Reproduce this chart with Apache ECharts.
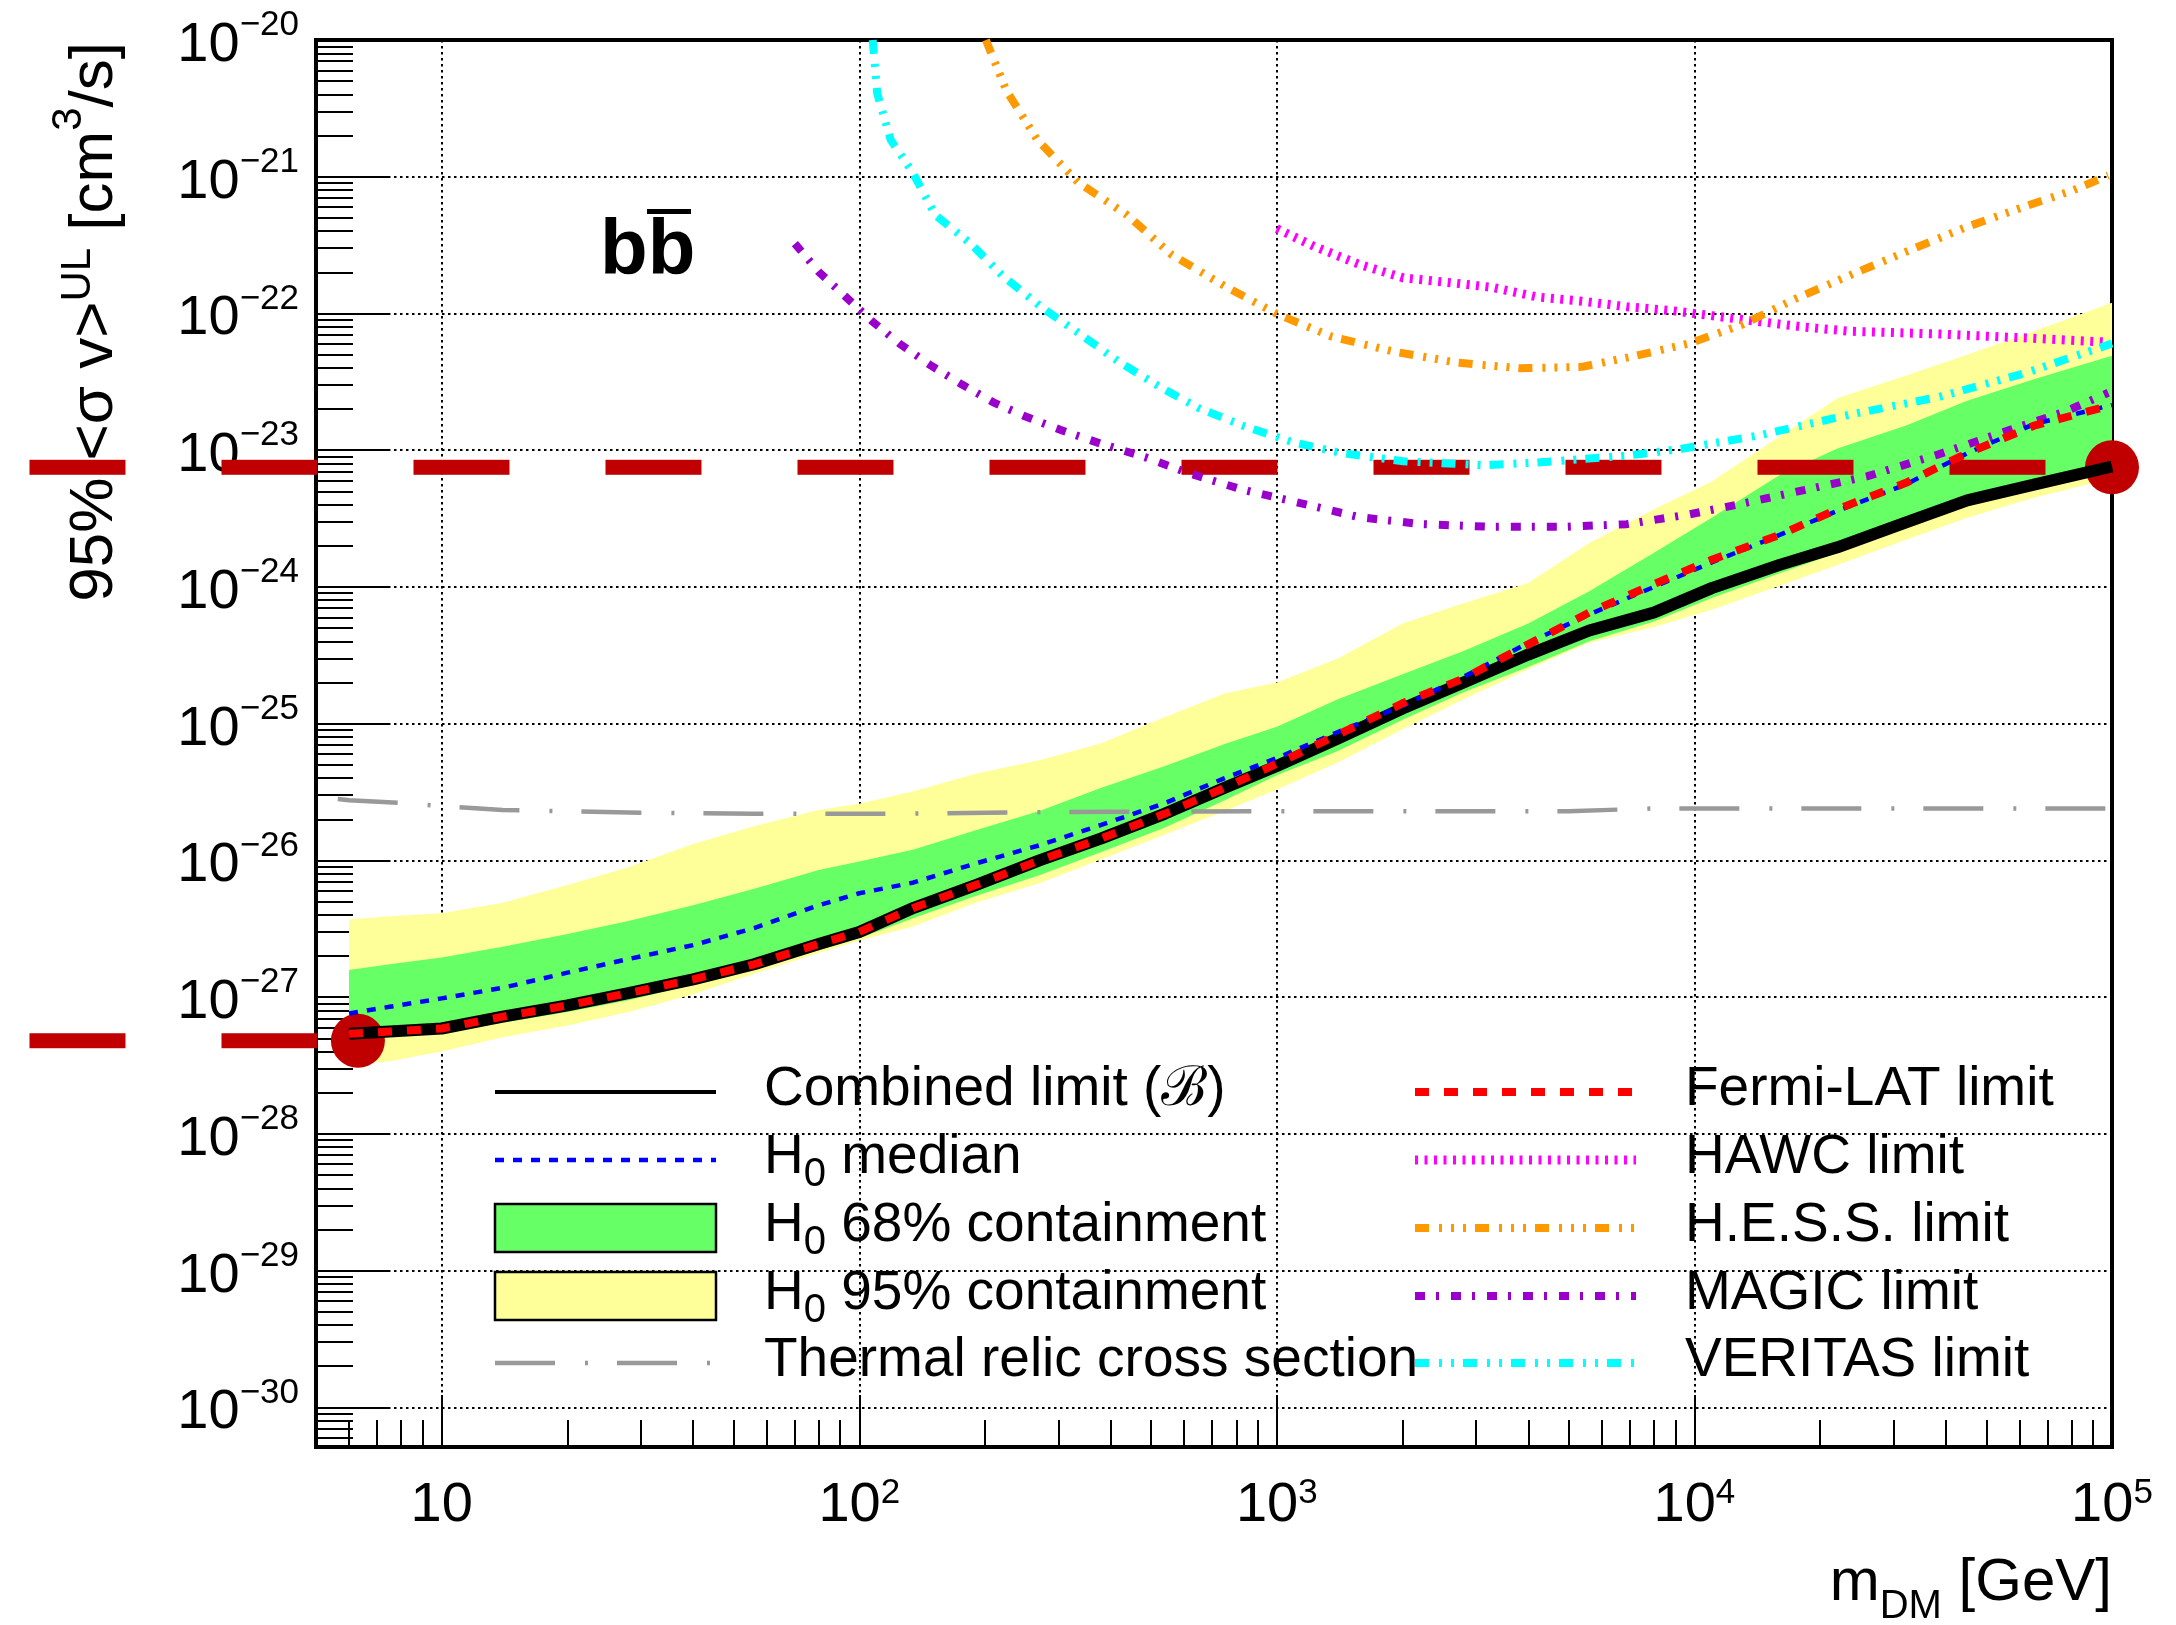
<!DOCTYPE html>
<html>
<head>
<meta charset="utf-8">
<script src="https://cdn.jsdelivr.net/npm/echarts@6/dist/echarts.min.js"></script>
<style>
html,body{margin:0;padding:0;background:#fff;}
#chart{width:2176px;height:1625px;}
</style>
</head>
<body>
<div id="chart"></div>
<script>
// ---------------- data (mass in GeV, <sigma v> in cm^3/s) ----------------
const massGrid = [6.0, 7.5, 10, 14, 20, 28, 40, 56, 80, 100, 135, 190, 270, 380, 540, 750, 1000, 1400, 2000, 2800, 4000, 5600, 8000, 11000, 16000, 22000, 32000, 45000, 65000, 100000];
const combinedLimit = [5.4e-28, 5.6e-28, 5.9e-28, 7.2e-28, 8.7e-28, 1.07e-27, 1.35e-27, 1.74e-27, 2.45e-27, 3.0e-27, 4.5e-27, 6.6e-27, 1.0e-26, 1.45e-26, 2.2e-26, 3.4e-26, 4.9e-26, 7.8e-26, 1.29e-25, 2.0e-25, 3.2e-25, 4.8e-25, 6.5e-25, 9.8e-25, 1.45e-24, 1.95e-24, 2.95e-24, 4.3e-24, 5.6e-24, 7.6e-24];
const fermiLimit = [5.4e-28, 5.6e-28, 5.9e-28, 7.2e-28, 8.7e-28, 1.07e-27, 1.35e-27, 1.74e-27, 2.45e-27, 3.0e-27, 4.5e-27, 6.6e-27, 1.0e-26, 1.45e-26, 2.2e-26, 3.4e-26, 5.1e-26, 8.3e-26, 1.41e-25, 2.14e-25, 3.8e-25, 6.5e-25, 1.05e-24, 1.58e-24, 2.4e-24, 3.7e-24, 5.75e-24, 9.5e-24, 1.51e-23, 2.14e-23];
const h0Median = [7.6e-28, 8.5e-28, 9.8e-28, 1.17e-27, 1.51e-27, 1.9e-27, 2.4e-27, 3.2e-27, 4.7e-27, 5.75e-27, 6.9e-27, 9.5e-27, 1.29e-26, 1.82e-26, 2.63e-26, 4.0e-26, 5.6e-26, 8.7e-26, 1.35e-25, 2.2e-25, 3.9e-25, 6.3e-25, 1.0e-24, 1.51e-24, 2.4e-24, 3.6e-24, 5.6e-24, 9.5e-24, 1.55e-23, 2.14e-23];
const band68Low = [5.0e-28, 5.25e-28, 5.5e-28, 6.5e-28, 7.8e-28, 9.5e-28, 1.23e-27, 1.62e-27, 2.2e-27, 2.7e-27, 3.8e-27, 5.5e-27, 7.8e-27, 1.15e-26, 1.74e-26, 2.75e-26, 4.2e-26, 6.3e-26, 1.07e-25, 1.7e-25, 2.6e-25, 4.0e-25, 5.6e-25, 8.3e-25, 1.26e-24, 1.78e-24, 2.7e-24, 3.9e-24, 5.4e-24, 8.3e-24];
const band68High = [1.58e-27, 1.74e-27, 1.95e-27, 2.34e-27, 2.9e-27, 3.6e-27, 4.7e-27, 6.2e-27, 8.5e-27, 9.8e-27, 1.2e-26, 1.66e-26, 2.3e-26, 3.4e-26, 4.9e-26, 7.1e-26, 9.5e-26, 1.51e-25, 2.3e-25, 3.4e-25, 5.4e-25, 9.3e-25, 1.78e-24, 3.2e-24, 6.6e-24, 1.03e-23, 1.51e-23, 2.3e-23, 3.3e-23, 4.9e-23];
const band95Low = [3.2e-28, 3.4e-28, 4.0e-28, 5.1e-28, 6.2e-28, 7.8e-28, 1.05e-27, 1.48e-27, 2.1e-27, 2.6e-27, 3.3e-27, 4.9e-27, 6.8e-27, 1.02e-26, 1.55e-26, 2.3e-26, 3.3e-26, 5.2e-26, 9.1e-26, 1.51e-25, 2.5e-25, 3.9e-25, 5.1e-25, 6.8e-25, 1.02e-24, 1.45e-24, 2.2e-24, 3.2e-24, 4.5e-24, 6.2e-24];
const band95High = [3.7e-27, 3.9e-27, 4.1e-27, 4.9e-27, 6.6e-27, 8.9e-27, 1.32e-26, 1.78e-26, 2.34e-26, 2.6e-26, 3.2e-26, 4.3e-26, 5.4e-26, 7.2e-26, 1.12e-25, 1.66e-25, 2.0e-25, 3.0e-25, 5.4e-25, 7.6e-25, 1.07e-24, 2.1e-24, 3.7e-24, 5.9e-24, 1.26e-23, 2.4e-23, 3.5e-23, 5.0e-23, 7.4e-23, 1.2e-22];

const thermalMass = [5, 6, 8, 10, 14, 28, 56, 110, 300, 1000, 5000, 8000, 100000];
const thermalSigma = [2.95e-26, 2.75e-26, 2.63e-26, 2.5e-26, 2.34e-26, 2.24e-26, 2.19e-26, 2.19e-26, 2.26e-26, 2.29e-26, 2.29e-26, 2.4e-26, 2.4e-26];

const hawcMass = [1000, 1230, 1574, 2009, 2704, 3289, 4207, 5383, 6887, 8790, 11250, 14390, 18410, 23550, 38460, 62950, 97950];
const hawcSigma = [4.17e-22, 3.09e-22, 2.29e-22, 1.82e-22, 1.66e-22, 1.55e-22, 1.32e-22, 1.23e-22, 1.12e-22, 1.05e-22, 9.55e-23, 8.7e-23, 7.94e-23, 7.41e-23, 7.08e-23, 6.61e-23, 6.17e-23];

const hessMass = [201, 225, 267, 334, 438, 560, 752, 995, 1355, 1914, 2704, 3811, 5383, 7228, 9705, 13030, 17540, 23550, 33190, 44670, 62950, 80540, 97950];
const hessSigma = [1.0e-20, 4.27e-21, 1.86e-21, 9.12e-22, 5.25e-22, 2.69e-22, 1.58e-22, 1.0e-22, 6.76e-23, 5.25e-23, 4.37e-23, 3.98e-23, 4.07e-23, 4.9e-23, 6.03e-23, 8.3e-23, 1.29e-22, 1.9e-22, 2.95e-22, 4.27e-22, 6.17e-22, 7.94e-22, 1.02e-21];

const magicMass = [70.1, 80.2, 92.9, 107.7, 124.7, 148.3, 176.2, 209.4, 248.3, 302.7, 377.6, 483.1, 618, 830, 1114, 1574, 2218, 3289, 4875, 6887, 9705, 13030, 18410, 26000, 38460, 57020, 76740, 97950];
const magicSigma = [3.24e-22, 2.0e-22, 1.32e-22, 8.7e-23, 6.03e-23, 4.17e-23, 3.02e-23, 2.24e-23, 1.78e-23, 1.41e-23, 1.12e-23, 8.9e-24, 6.76e-24, 5.13e-24, 4.17e-24, 3.24e-24, 2.88e-24, 2.75e-24, 2.75e-24, 2.88e-24, 3.39e-24, 4.07e-24, 5.13e-24, 6.46e-24, 9.33e-24, 1.41e-23, 1.9e-23, 2.63e-23];

const veritasMass = [107.7, 110.4, 118.9, 134.3, 152, 184.9, 219.8, 274.2, 334, 416.9, 520, 648.6, 829.8, 1086, 1426, 2009, 3133, 4207, 6887, 9247, 14390, 23550, 38460, 62950, 100000];
const veritasSigma = [1.0e-20, 4.07e-21, 1.86e-21, 1.07e-21, 5.25e-22, 3.24e-22, 1.9e-22, 1.1e-22, 7.24e-23, 4.47e-23, 2.95e-23, 2.04e-23, 1.51e-23, 1.15e-23, 9.55e-24, 8.3e-24, 7.76e-24, 8.13e-24, 9.12e-24, 1.02e-23, 1.29e-23, 1.82e-23, 2.45e-23, 3.72e-23, 6.03e-23];

// highlighted end points of the combined limit and start of the guide lines
const markerMass = [6.3, 100000];
const markerSigma = [4.8e-28, 7.5e-24];
const guideStartMass = 1.03;

// axis ranges and tick decades
const xRange = [5, 1e5];
const yRange = [5.13e-31, 1e-20];
const xDecades = [1, 2, 3, 4, 5];
const yDecades = [-30, -29, -28, -27, -26, -25, -24, -23, -22, -21, -20];

// ---------------- helpers ----------------
const lg = Math.log10;
const FONT = 'Liberation Sans, Arial, Helvetica, sans-serif';
const xr = [lg(xRange[0]), lg(xRange[1])];
const yr = [lg(yRange[0]), lg(yRange[1])];
const xMinor = [], yMinor = [];
for (let e = 0; e <= 4; e++) for (let k = 2; k <= 9; k++) { const v = e + lg(k); if (v > xr[0] + 1e-6 && v < xr[1]) xMinor.push(v); }
for (let e = -31; e <= -21; e++) for (let k = 2; k <= 9; k++) { const v = e + lg(k); if (v > yr[0] && v < yr[1]) yMinor.push(v); }

const STYLE = {
  combined: {color: '#000000', width: 12, type: 'solid'},
  median:   {color: '#0000ff', width: 4.5, type: [9, 9]},
  fermi:    {color: '#ff0000', width: 8, type: [14, 15]},
  hawc:     {color: '#ff00ff', width: 9, type: [3, 6.5]},
  hess:     {color: '#ff9900', width: 8, type: [14, 10, 3, 9, 3, 9, 3, 9]},
  magic:    {color: '#9900cc', width: 8, type: [10, 11, 3, 12]},
  veritas:  {color: '#00ffff', width: 8, type: [14, 10, 3, 9, 3, 9]},
  thermal:  {color: '#999999', width: 4.5, type: [60, 30, 3, 29], dashOffset: 100},
  guide:    {color: '#c00000', width: 15, type: [96, 96]},
  band68: '#66ff66',
  band95: '#ffff99'
};

function pairs(mass, sigma) { return mass.map((m, i) => [lg(m), lg(sigma[i])]); }

function lineSeries(name, mass, sigma, st) {
  return {
    type: 'line', name, data: pairs(mass, sigma), symbol: 'none', showSymbol: false,
    smooth: false, clip: true, silent: true, animation: false,
    lineStyle: {color: st.color, width: st.width, type: st.type, dashOffset: st.dashOffset || 0, cap: 'butt', join: 'round', opacity: 1}
  };
}

function bandSeries(name, low, high, color) {
  return {
    type: 'custom', name, silent: true, animation: false, clip: true,
    data: massGrid.map((m, i) => [lg(m), lg(low[i]), lg(high[i])]),
    encode: {x: 0, y: [1, 2]},
    renderItem: function (params, api) {
      if (params.dataIndex !== 0) return null;
      const up = [], dn = [];
      for (let i = 0; i < massGrid.length; i++) {
        up.push(api.coord([lg(massGrid[i]), lg(high[i])]));
        dn.push(api.coord([lg(massGrid[i]), lg(low[i])]));
      }
      return {type: 'polygon', shape: {points: up.concat(dn.reverse())}, style: {fill: color, stroke: null}};
    }
  };
}

// horizontal guide lines from the left edge of the figure to the highlighted end points
const guideSeries = {
  type: 'custom', name: 'guides', silent: true, animation: false, clip: false,
  data: markerMass.map((m, i) => [lg(guideStartMass), lg(markerSigma[i]), lg(m)]),
  encode: {x: [0, 2], y: 1},
  renderItem: function (params, api) {
    const p0 = api.coord([api.value(0), api.value(1)]);
    const p1 = api.coord([api.value(2), api.value(1)]);
    return {type: 'line', shape: {x1: p0[0], y1: p0[1], x2: p1[0], y2: p1[1]},
      style: {stroke: STYLE.guide.color, lineWidth: STYLE.guide.width, lineDash: STYLE.guide.type, lineCap: 'butt'}};
  }
};

const tickLine = {color: '#000', width: 2};
const gridLine = {color: '#000', width: 2, type: [2.5, 3.5]};
const xRich = {
  b: {fontFamily: FONT, fontSize: 56, lineHeight: 70, color: '#000'},
  s: {fontFamily: FONT, fontSize: 35, lineHeight: 70, color: '#000', padding: [0, 0, 25, 0]}
};
const yRich = {
  b: {fontFamily: FONT, fontSize: 56, lineHeight: 70, color: '#000', padding: [11, 0, 0, 0]},
  s: {fontFamily: FONT, fontSize: 35, lineHeight: 70, color: '#000', padding: [0, 0, 29, 0]}
};

// ---------------- legend (drawn as graphic elements) ----------------
const legendLeft = [
  {label: '{n|Combined limit (\u212C)}', kind: 'line', st: {color: '#000', width: 4, type: 'solid'}},
  {label: '{n|H}{sub|0}{n| median}', kind: 'line', st: STYLE.median},
  {label: '{n|H}{sub|0}{n| 68% containment}', kind: 'box', fill: STYLE.band68},
  {label: '{n|H}{sub|0}{n| 95% containment}', kind: 'box', fill: STYLE.band95},
  {label: '{n|Thermal relic cross section}', kind: 'line', st: {color: STYLE.thermal.color, width: 4.5, type: STYLE.thermal.type}}
];
const legendRight = [
  {label: '{n|Fermi-LAT limit}', kind: 'line', st: STYLE.fermi},
  {label: '{n|HAWC limit}', kind: 'line', st: STYLE.hawc},
  {label: '{n|H.E.S.S. limit}', kind: 'line', st: STYLE.hess},
  {label: '{n|MAGIC limit}', kind: 'line', st: STYLE.magic},
  {label: '{n|VERITAS limit}', kind: 'line', st: STYLE.veritas}
];
const legendRich = {
  n: {fontFamily: FONT, fontSize: 55, lineHeight: 70, color: '#000'},
  sub: {fontFamily: FONT, fontSize: 40, lineHeight: 70, color: '#000', padding: [33, 0, 0, 0]}
};
const rowY = [1092, 1160, 1228, 1296, 1363];
function legendColumn(entries, sx, tx) {
  const els = [];
  entries.forEach((e, i) => {
    const y = rowY[i];
    if (e.kind === 'line') {
      els.push({type: 'line', z: 20, silent: true, shape: {x1: sx, y1: y, x2: sx + 221, y2: y},
        style: {stroke: e.st.color, lineWidth: e.st.width, lineDash: e.st.type === 'solid' ? null : e.st.type, lineCap: 'butt'}});
    } else {
      els.push({type: 'rect', z: 20, silent: true, shape: {x: sx, y: y - 24, width: 221, height: 48},
        style: {fill: e.fill, stroke: '#000', lineWidth: 2.5}});
    }
    els.push({type: 'text', z: 21, silent: true, x: tx, y: y - 2,
      style: {text: e.label, rich: legendRich, fill: '#000', align: 'left', verticalAlign: 'middle'}});
  });
  return els;
}

const graphics = [].concat(
  legendColumn(legendLeft, 495, 764),
  legendColumn(legendRight, 1415, 1685),
  [
    // channel label
    {type: 'text', z: 20, silent: true, x: 600, y: 252,
      style: {text: 'bb', fontFamily: FONT, fontSize: 78, fontWeight: 'bold', fill: '#000', align: 'left', verticalAlign: 'middle'}},
    {type: 'rect', z: 20, silent: true, shape: {x: 647, y: 209, width: 44, height: 5}, style: {fill: '#000'}},
    // y-axis title
    {type: 'text', z: 20, silent: true, x: 95, y: 42, rotation: Math.PI / 2,
      style: {text: '{a|95% <\u03C3 v>}{u|UL}{a| [cm}{t|3}{a|/s]}', fill: '#000', align: 'right', verticalAlign: 'middle',
        rich: {
          a: {fontFamily: FONT, fontSize: 62, lineHeight: 90, color: '#000'},
          u: {fontFamily: FONT, fontSize: 42, lineHeight: 90, color: '#000', padding: [0, 0, 34, 0]},
          t: {fontFamily: FONT, fontSize: 42, lineHeight: 90, color: '#000', padding: [0, 0, 52, 0]}
        }}},
    // x-axis title
    {type: 'text', z: 20, silent: true, x: 2112, y: 1583,
      style: {text: '{a|m}{d|DM}{a| [GeV]}', fill: '#000', align: 'right', verticalAlign: 'middle',
        rich: {
          a: {fontFamily: FONT, fontSize: 60, lineHeight: 90, color: '#000'},
          d: {fontFamily: FONT, fontSize: 40, lineHeight: 90, color: '#000', padding: [48, 0, 0, 0]}
        }}}
  ]
);

const option = {
  animation: false,
  backgroundColor: '#ffffff',
  grid: {left: 316, right: 64, top: 40, bottom: 178, show: true, borderColor: '#000', borderWidth: 4,
    backgroundColor: 'rgba(0,0,0,0)', containLabel: false, outerBoundsMode: 'none'},
  xAxis: [
    {
      type: 'value', min: xr[0], max: xr[1], position: 'bottom',
      axisLine: {show: false},
      axisTick: {show: true, inside: true, length: 52, customValues: xDecades, lineStyle: tickLine},
      axisLabel: {show: true, customValues: xDecades, margin: 24, rich: xRich,
        formatter: function (v) { const e = Math.round(v); return e === 1 ? '{b|10}' : '{b|10}{s|' + e + '}'; }},
      splitLine: {show: true, lineStyle: gridLine}
    },
    {
      type: 'value', min: xr[0], max: xr[1], position: 'bottom', offset: 0,
      axisLine: {show: false}, axisLabel: {show: false}, splitLine: {show: false},
      axisTick: {show: true, inside: true, length: 27, customValues: xMinor, lineStyle: tickLine}
    }
  ],
  yAxis: [
    {
      type: 'value', min: yr[0], max: yr[1], position: 'left',
      axisLine: {show: false},
      axisTick: {show: true, inside: true, length: 73, customValues: yDecades, lineStyle: tickLine},
      axisLabel: {show: true, customValues: yDecades, margin: 17, rich: yRich,
        formatter: function (v) { const e = Math.round(v); return '{b|10}{s|\u2212' + Math.abs(e) + '}'; }},
      splitLine: {show: true, lineStyle: gridLine}
    },
    {
      type: 'value', min: yr[0], max: yr[1], position: 'left', offset: 0,
      axisLine: {show: false}, axisLabel: {show: false}, splitLine: {show: false},
      axisTick: {show: true, inside: true, length: 37, customValues: yMinor, lineStyle: tickLine}
    }
  ],
  series: [
    bandSeries('H0 95% containment', band95Low, band95High, STYLE.band95),
    bandSeries('H0 68% containment', band68Low, band68High, STYLE.band68),
    lineSeries('Thermal relic cross section', thermalMass, thermalSigma, STYLE.thermal),
    guideSeries,
    lineSeries('HAWC limit', hawcMass, hawcSigma, STYLE.hawc),
    lineSeries('H.E.S.S. limit', hessMass, hessSigma, STYLE.hess),
    lineSeries('MAGIC limit', magicMass, magicSigma, STYLE.magic),
    lineSeries('VERITAS limit', veritasMass, veritasSigma, STYLE.veritas),
    lineSeries('Combined limit', massGrid, combinedLimit, STYLE.combined),
    lineSeries('H0 median', massGrid, h0Median, STYLE.median),
    lineSeries('Fermi-LAT limit', massGrid, fermiLimit, STYLE.fermi),
    {
      type: 'scatter', name: 'end points', clip: false, silent: true, animation: false,
      symbol: 'circle', symbolSize: 54, itemStyle: {color: '#c00000', opacity: 1, borderWidth: 0},
      data: pairs(markerMass, markerSigma)
    }
  ],
  graphic: {elements: graphics}
};

const chart = echarts.init(document.getElementById('chart'), null, {renderer: 'canvas'});
chart.setOption(option);
</script>
</body>
</html>
